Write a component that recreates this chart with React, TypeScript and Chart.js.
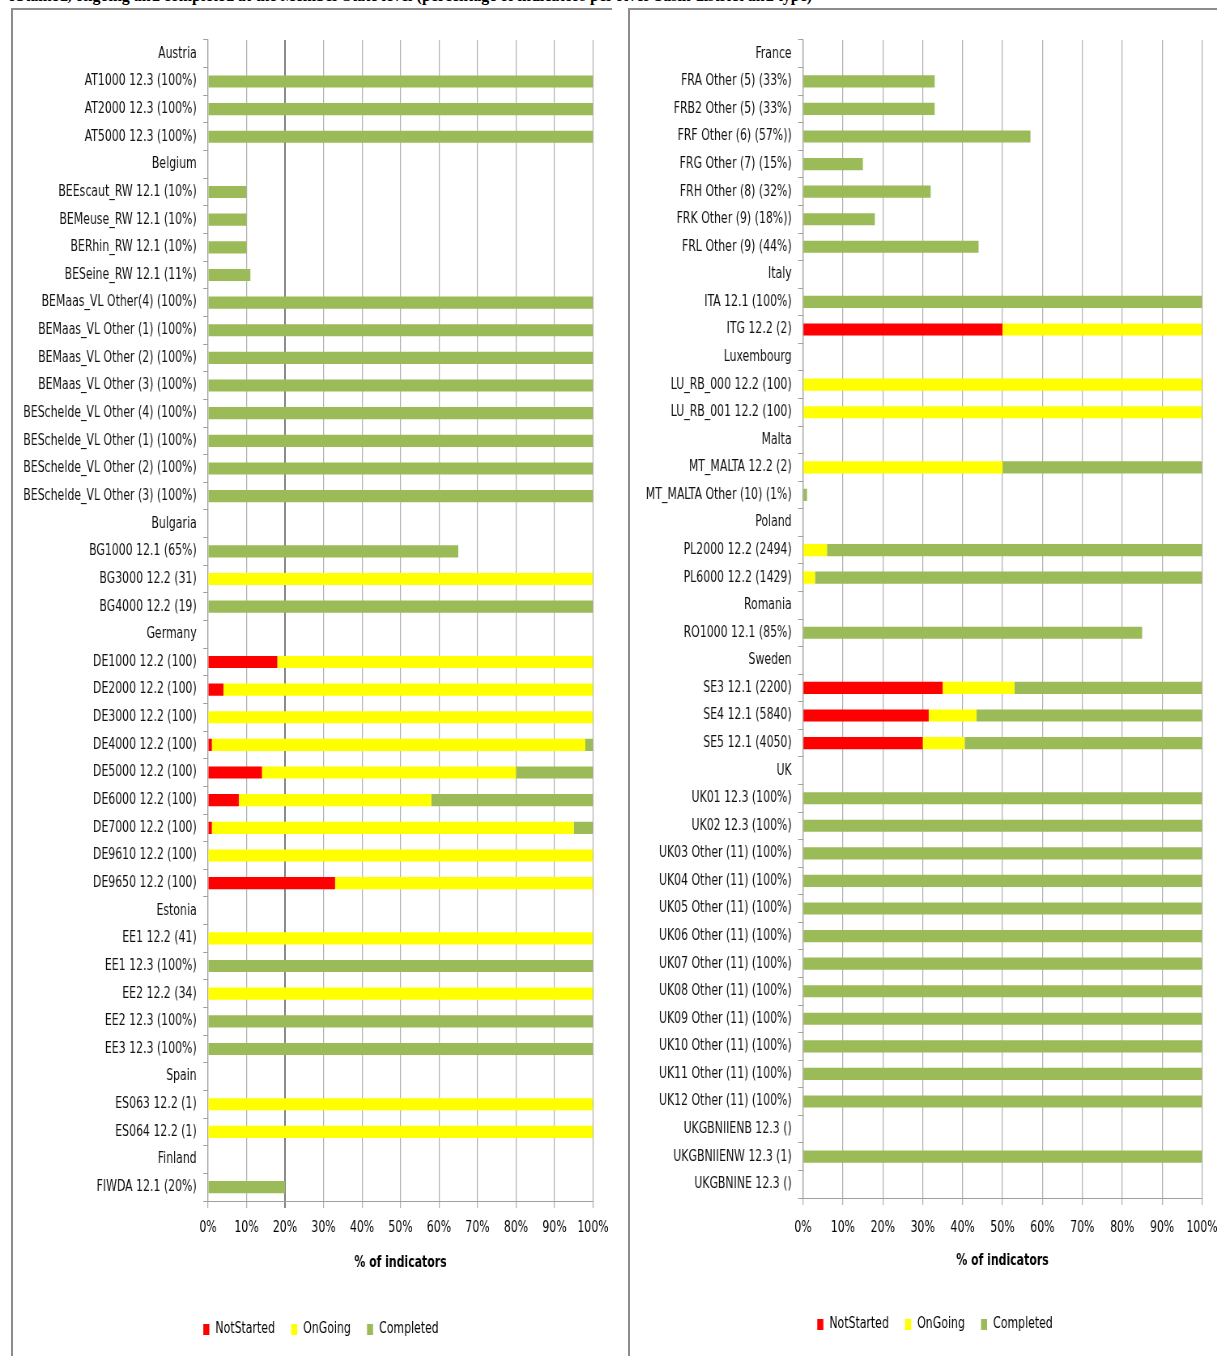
import React, { useEffect, useRef } from "react";
import { Chart, registerables } from "chart.js";

Chart.register(...registerables);

// ---------- DATA ----------
const leftLabels = [
  "Austria",
  "AT1000 12.3 (100%)",
  "AT2000 12.3 (100%)",
  "AT5000 12.3 (100%)",
  "Belgium",
  "BEEscaut_RW 12.1 (10%)",
  "BEMeuse_RW 12.1 (10%)",
  "BERhin_RW 12.1 (10%)",
  "BESeine_RW 12.1 (11%)",
  "BEMaas_VL Other(4) (100%)",
  "BEMaas_VL Other (1) (100%)",
  "BEMaas_VL Other (2) (100%)",
  "BEMaas_VL Other (3) (100%)",
  "BESchelde_VL Other (4) (100%)",
  "BESchelde_VL Other (1) (100%)",
  "BESchelde_VL Other (2) (100%)",
  "BESchelde_VL Other (3) (100%)",
  "Bulgaria",
  "BG1000 12.1 (65%)",
  "BG3000 12.2 (31)",
  "BG4000 12.2 (19)",
  "Germany",
  "DE1000 12.2 (100)",
  "DE2000 12.2 (100)",
  "DE3000 12.2 (100)",
  "DE4000 12.2 (100)",
  "DE5000 12.2 (100)",
  "DE6000 12.2 (100)",
  "DE7000 12.2 (100)",
  "DE9610 12.2 (100)",
  "DE9650 12.2 (100)",
  "Estonia",
  "EE1 12.2 (41)",
  "EE1 12.3 (100%)",
  "EE2 12.2 (34)",
  "EE2 12.3 (100%)",
  "EE3 12.3 (100%)",
  "Spain",
  "ES063 12.2 (1)",
  "ES064 12.2 (1)",
  "Finland",
  "FIWDA 12.1 (20%)",
];
const leftNotStarted = [
  null, null, null, null,
  null, null, null, null, null, null, null, null, null, null, null, null, null,
  null, null, null, null,
  null, 18, 4, null, 1, 14, 8, 1, null, 33,
  null, null, null, null, null, null,
  null, null, null,
  null, null,
];
const leftOnGoing = [
  null, null, null, null,
  null, null, null, null, null, null, null, null, null, null, null, null, null,
  null, null, 100, null,
  null, 82, 96, 100, 97, 66, 50, 94, 100, 67,
  null, 100, null, 100, null, null,
  null, 100, 100,
  null, null,
];
const leftCompleted = [
  null, 100, 100, 100,
  null, 10, 10, 10, 11, 100, 100, 100, 100, 100, 100, 100, 100,
  null, 65, null, 100,
  null, null, null, null, 2, 20, 42, 5, null, null,
  null, null, 100, null, 100, 100,
  null, null, null,
  null, 20,
];

const rightLabels = [
  "France",
  "FRA Other (5) (33%)",
  "FRB2 Other (5) (33%)",
  "FRF Other (6) (57%))",
  "FRG Other (7) (15%)",
  "FRH Other (8) (32%)",
  "FRK Other (9) (18%))",
  "FRL Other (9) (44%)",
  "Italy",
  "ITA 12.1 (100%)",
  "ITG 12.2 (2)",
  "Luxembourg",
  "LU_RB_000 12.2 (100)",
  "LU_RB_001 12.2 (100)",
  "Malta",
  "MT_MALTA 12.2 (2)",
  "MT_MALTA Other (10) (1%)",
  "Poland",
  "PL2000 12.2 (2494)",
  "PL6000 12.2 (1429)",
  "Romania",
  "RO1000 12.1 (85%)",
  "Sweden",
  "SE3 12.1 (2200)",
  "SE4 12.1 (5840)",
  "SE5 12.1 (4050)",
  "UK",
  "UK01 12.3 (100%)",
  "UK02 12.3 (100%)",
  "UK03 Other (11) (100%)",
  "UK04 Other (11) (100%)",
  "UK05 Other (11) (100%)",
  "UK06 Other (11) (100%)",
  "UK07 Other (11) (100%)",
  "UK08 Other (11) (100%)",
  "UK09 Other (11) (100%)",
  "UK10 Other (11) (100%)",
  "UK11 Other (11) (100%)",
  "UK12 Other (11) (100%)",
  "UKGBNIIENB 12.3 ()",
  "UKGBNIIENW 12.3 (1)",
  "UKGBNINE 12.3 ()",
];
const rightNotStarted = [
  null, null, null, null, null, null, null, null,
  null, null, 50,
  null, null, null,
  null, null, null,
  null, null, null,
  null, null,
  null, 35, 31.5, 30,
  null, null, null, null, null, null, null, null, null, null, null, null, null, null, null, null,
];
const rightOnGoing = [
  null, null, null, null, null, null, null, null,
  null, null, 50,
  null, 100, 100,
  null, 50, null,
  null, 6, 3,
  null, null,
  null, 18, 12, 10.5,
  null, null, null, null, null, null, null, null, null, null, null, null, null, null, null, null,
];
const rightCompleted = [
  null, 33, 33, 57, 15, 32, 18, 44,
  null, 100, null,
  null, null, null,
  null, 50, 1,
  null, 94, 97,
  null, 85,
  null, 47, 56.5, 59.5,
  null, 100, 100, 100, 100, 100, 100, 100, 100, 100, 100, 100, 100, null, 100, null,
];

const xTicks = [0, 10, 20, 30, 40, 50, 60, 70, 80, 90, 100];
const seriesNames = ["NotStarted", "OnGoing", "Completed"];

// ---------- STYLE ----------
const RED = "#FF0000";
const YELLOW = "#FFFF00";
const GREEN = "#9BBB59";
const FONT = '"Liberation Sans Narrow", "DejaVu Sans Condensed", "Arial Narrow", sans-serif';
const SQUEEZE = 0.81; // horizontal compression of the rendered canvas (narrow type)

type PanelProps = {
  labels: string[];
  ns: (number | null)[];
  og: (number | null)[];
  c: (number | null)[];
  axisLeft: number; // screen px from canvas left to plot area left
  legendShift: number; // screen px
  padTop: number;
  padRight: number; // screen px
  padBottom: number;
  tickPad: number;
  titlePadTop: number;
  titlePadBottom: number;
  darkIndex: number;
  width: number; // screen px
  height: number;
};

function Panel(p: PanelProps) {
  const ref = useRef<HTMLCanvasElement | null>(null);
  const cw = Math.round(p.width / SQUEEZE);
  const k = p.width / cw;
  useEffect(() => {
    if (!ref.current) return;
    const shiftLegend = {
      id: "shiftLegend",
      afterLayout(chart: any) {
        const lg = chart.legend;
        if (lg) {
          lg.left += p.legendShift / k;
          lg.right += p.legendShift / k;
        }
      },
    };
    const chart = new Chart(ref.current, {
      type: "bar",
      data: {
        labels: p.labels,
        datasets: [
          { label: seriesNames[0], data: p.ns, backgroundColor: RED },
          { label: seriesNames[1], data: p.og, backgroundColor: YELLOW },
          { label: seriesNames[2], data: p.c, backgroundColor: GREEN },
        ],
      },
      plugins: [shiftLegend],
      options: {
        indexAxis: "y",
        animation: false,
        responsive: false,
        maintainAspectRatio: false,
        devicePixelRatio: 1,
        datasets: { bar: { categoryPercentage: 1, barPercentage: 0.44 } },
        layout: {
          padding: { top: p.padTop, right: p.padRight / k, bottom: p.padBottom, left: 0 },
        },
        plugins: {
          tooltip: { enabled: false },
          legend: {
            position: "bottom",
            labels: {
              boxWidth: 7.5,
              boxHeight: 11,
              padding: 20,
              color: "#000",
              font: { family: FONT, size: 15 },
            },
          },
        },
        scales: {
          x: {
            stacked: true,
            min: 0,
            max: 100,
            afterBuildTicks: (s: any) => {
              s.ticks = xTicks.map((v) => ({ value: v }));
            },
            afterFit: (s: any) => {
              s.paddingLeft = 0;
              s.paddingRight = 0;
            },
            ticks: {
              callback: (v: any) => v + "%",
              color: "#000",
              padding: p.tickPad,
              maxRotation: 0,
              autoSkip: false,
              font: { family: FONT, size: 15 },
            },
            grid: {
              color: (ctx: any) => (ctx.index === p.darkIndex ? "#7A7A7A" : "#B0B0B0"),
              lineWidth: (ctx: any) => (ctx.index === p.darkIndex ? 1.6 / k : 1 / k),
              tickLength: 7,
            },
            border: { display: true, color: "#A0A0A0", width: 1 },
            title: {
              display: true,
              text: "% of indicators",
              color: "#000",
              font: { family: FONT, size: 15, weight: "bold" },
              padding: { top: p.titlePadTop, bottom: p.titlePadBottom },
            },
          },
          y: {
            stacked: true,
            afterFit: (s: any) => {
              s.width = p.axisLeft / k;
            },
            ticks: {
              color: "#111",
              padding: 8,
              autoSkip: false,
              font: { family: FONT, size: 15 },
            },
            grid: {
              offset: true,
              drawOnChartArea: false,
              tickLength: 6,
              color: "#A0A0A0",
            },
            border: { display: true, color: "#A0A0A0", width: 1 / k },
          },
        },
      },
    });
    return () => chart.destroy();
  }, []);
  return (
    <canvas
      ref={ref}
      width={cw}
      height={p.height}
      style={{
        display: "block",
        width: cw,
        height: p.height,
        transform: `scaleX(${k})`,
        transformOrigin: "0 0",
      }}
    />
  );
}

export default function App() {
  return (
    <div style={{ position: "absolute", left: 0, top: 0, width: 1217, height: 1356, overflow: "hidden", background: "#fff" }}>
      <div
        style={{
          position: "absolute",
          left: 8,
          top: -13,
          whiteSpace: "nowrap",
          fontFamily: '"Liberation Serif", "Times New Roman", serif',
          fontWeight: "bold",
          fontSize: 16,
          color: "#000",
        }}
      >
        obtained, ongoing and completed at the Member State level (percentage of indicators per river basin district and type)
      </div>
      <div
        style={{
          position: "absolute",
          left: 11,
          top: 8,
          width: 601,
          height: 1348,
          borderLeft: "2px solid #8C8C8C",
          borderTop: "2px solid #8C8C8C",
          boxSizing: "border-box",
          overflow: "hidden",
        }}
      >
        <Panel
          labels={leftLabels}
          ns={leftNotStarted}
          og={leftOnGoing}
          c={leftCompleted}
          axisLeft={195}
          legendShift={18}
          padTop={30}
          padRight={19}
          padBottom={9}
          tickPad={11}
          titlePadTop={6}
          titlePadBottom={30}
          darkIndex={2}
          width={599}
          height={1346}
        />
      </div>
      <div
        style={{
          position: "absolute",
          left: 628,
          top: 8,
          width: 589,
          height: 1348,
          borderLeft: "2px solid #8C8C8C",
          borderTop: "2px solid #8C8C8C",
          boxSizing: "border-box",
          overflow: "hidden",
        }}
      >
        <Panel
          labels={rightLabels}
          ns={rightNotStarted}
          og={rightOnGoing}
          c={rightCompleted}
          axisLeft={173}
          legendShift={19}
          padTop={30}
          padRight={15}
          padBottom={14}
          tickPad={14}
          titlePadTop={1}
          titlePadBottom={27}
          darkIndex={-1}
          width={587}
          height={1346}
        />
      </div>
    </div>
  );
}
